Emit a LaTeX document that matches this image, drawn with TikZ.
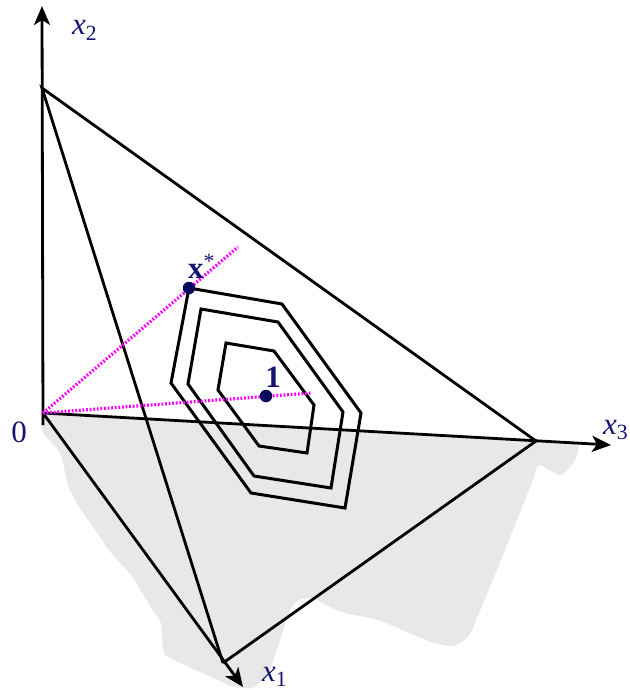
\documentclass[tikz,border=0pt]{standalone}
\usepackage{fontspec}
\setmainfont{Liberation Serif}
\usetikzlibrary{arrows.meta}
\definecolor{lbl}{RGB}{20,20,110}
\definecolor{dotc}{RGB}{5,10,90}
\definecolor{mag}{RGB}{255,0,255}
\definecolor{greyfill}{RGB}{232,232,232}
\begin{document}
\begin{tikzpicture}[x=1pt,y=-1pt,
  ax/.style={line width=2.8pt,-{Stealth[length=19pt,width=16pt,inset=5pt]}},
  edge/.style={line width=2.8pt},
  contour/.style={line width=3pt,line join=miter},
  ray/.style={mag,line width=3.2pt,dash pattern=on 1.8pt off 1.8pt},
  dotn/.style={circle,fill=dotc,inner sep=0pt,minimum size=12.5pt},
  lab/.style={text=lbl,font=\fontsize{31}{34}\selectfont,inner sep=0pt}]
\useasboundingbox (0,0) rectangle (629,690);
% shaded region
\fill[greyfill,rounded corners=6pt] (43,413) -- (40,427) -- (44,435) -- (61,453) -- (68,487) -- (79,507)
  -- (111,553) -- (133,577) -- (154,613) -- (161,620) -- (163,653) -- (169,658) -- (233,687)
  -- (254,689) -- (269,673) -- (290,610) -- (297,600) -- (311,597) -- (340,612) -- (379,620)
  -- (433,643) -- (454,647) -- (469,637) -- (497,570) -- (533,480) -- (538,463) -- (544,467)
  -- (561,477) -- (576,460) -- (580,443) -- cycle;
% points
\coordinate (O) at (43,413);
\coordinate (Ob) at (43,425);
\coordinate (A2) at (42,6);
\coordinate (A3) at (611,445);
\coordinate (A1) at (243,687);
\coordinate (P2) at (42,88);
\coordinate (P3) at (536,441);
\coordinate (P1) at (223,663);
\coordinate (R1) at (238,247);
\coordinate (R2) at (311,393);
% axes
\draw[ax] (Ob) -- (A2);
\draw[ax] (O) -- (A3);
\draw[ax] (O) -- (A1);
% simplex
\draw[edge,line join=miter] (P1) -- (P2) -- (P3) -- (P1);
% contours
\draw[contour] (189,288) -- (282,304) -- (361,413) -- (345,508) -- (251,493) -- (171,383) -- cycle;
\draw[contour] (201,309) -- (278,322) -- (343,412) -- (331,488) -- (254,476) -- (188,384) -- cycle;
\draw[contour] (226,343) -- (274,351) -- (314,405) -- (307,453) -- (259,446) -- (218,390) -- cycle;
% rays
\draw[ray] (O) -- (R1);
\draw[ray] (O) -- (R2);
% dots
\node[dotn] (xs) at (189,288) {};
\node[dotn] (one) at (266,396) {};
% labels
\node[lab,anchor=base west] (l2) at (72,35) {\textit{x}\textsubscript{2}};
\node[lab,anchor=base west] (l3) at (603,434) {\textit{x}\textsubscript{3}};
\node[lab,anchor=base west] (l1) at (262,681) {\textit{x}\textsubscript{1}};
\node[lab,anchor=base] (l0) at (19,442) {0};
\node[lab,anchor=base west] (lxs) at (188,278) {\textbf{x}\textsuperscript{*}};
\node[lab,anchor=base] (lone) at (273,387) {\textbf{1}};
\end{tikzpicture}
\end{document}
